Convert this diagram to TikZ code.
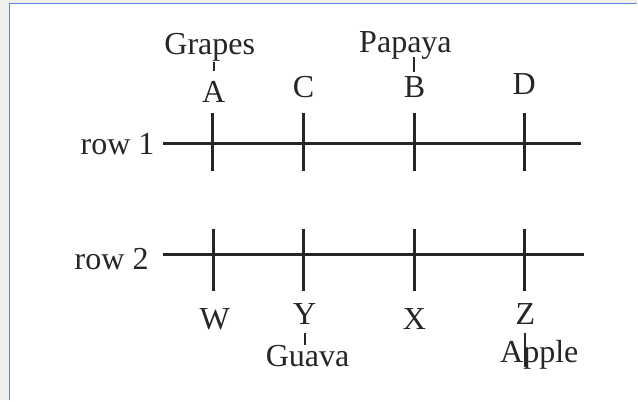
\documentclass[tikz,border=0pt]{standalone}
\usepackage{fontspec}
\setmainfont{Liberation Serif}
\definecolor{ink}{HTML}{262626}
\definecolor{frameblue}{HTML}{5B87D6}
\definecolor{paper}{HTML}{EFEFEC}
\begin{document}
\begin{tikzpicture}[x=0.025cm, y=-0.025cm,
                    every node/.style={inner sep=0pt, text=ink, font=\fontsize{22.8}{27}\selectfont},
                    row/.style={draw=ink, line width=2.2pt},
                    tick/.style={draw=ink, line width=2pt},
                    link/.style={draw=ink, line width=1.4pt}
                ]
                \fill[paper] (0,0) rectangle (638,401);
                \fill[white] (9,3) rectangle (638,401);
                \draw[frameblue, line width=1.2pt] (9.5,401) -- (9.5,3.5) -- (638,3.5);
                \useasboundingbox (0,0) rectangle (638,401);

                \node[anchor=base east] (row1) at (155,155) {row 1};
                \node[anchor=base east] (row2) at (149,270) {row 2};
                \coordinate (end1) at (582,144);
                \coordinate (end2) at (585,255);
                \draw[row, shorten <=0.2cm] (end1 -| row1.east) -- (end1);
                \draw[row, shorten <=0.35cm] (end2 -| row2.east) -- (end2);
                \foreach \x in {213,304,415,525}
                    \draw[tick] (\x,113) -- (\x,171);
                \foreach \x in {214,304,415,525}
                    \draw[tick] (\x,229) -- (\x,291);

                \node[anchor=base] (A) at (214,103) {A};
                \node[anchor=base] (C) at (304,98) {C};
                \node[anchor=base] (B) at (415,98) {B};
                \node[anchor=base] (D) at (525,95) {D};
                \node[anchor=base] (grapes) at (210,55) {Grapes};
                \node[anchor=base] (papaya) at (406,53) {Papaya};
                \node[anchor=base] (W) at (215,330) {W};
                \node[anchor=base] (Y) at (305,325) {Y};
                \node[anchor=base] (X) at (415,330) {X};
                \node[anchor=base] (Z) at (526,325) {Z};
                \node[anchor=base] (guava) at (308,367) {Guava};
                \node[anchor=base] (apple) at (540,363) {Apple};

                \draw[link, shorten <=0.27cm] (A.north) -- (A.north |- grapes.south);
                \draw[link, shorten <=0.12cm, shorten >=-0.07cm] (B.north) -- (B.north |- papaya.south);
                \draw[link, shorten <=0.2cm] (Y.south) -- (Y.south |- guava.north);
                \draw[link, shorten <=0.2cm, shorten >=-0.1cm] (Z.south) -- (Z.south |- apple.base);
                \end{tikzpicture}
\end{document}
